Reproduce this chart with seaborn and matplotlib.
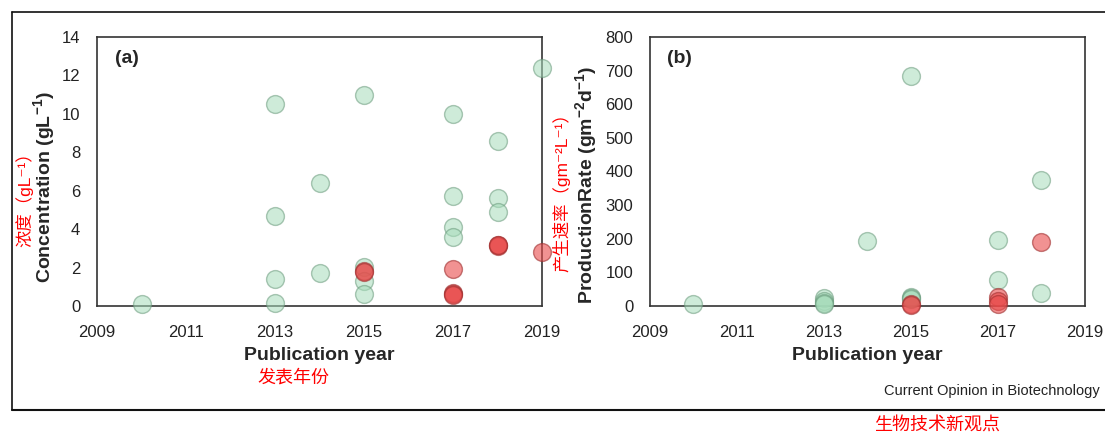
import numpy as np
import pandas as pd
import matplotlib
matplotlib.use("Agg")
import matplotlib.pyplot as plt
import seaborn as sns
from matplotlib.lines import Line2D

sns.set_style("white")
plt.rcParams["font.family"] = ["Liberation Sans", "Noto Sans CJK SC", "DejaVu Sans"]
plt.rcParams["mathtext.fontset"] = "custom"
plt.rcParams["mathtext.rm"] = "Liberation Sans"
plt.rcParams["mathtext.bf"] = "Liberation Sans:bold"

# (a) koncentrace
conc_green_year = [2010, 2013, 2013, 2013, 2013, 2014, 2014, 2015, 2015, 2015, 2015,
                   2017, 2017, 2017, 2017, 2018, 2018, 2018, 2019]
conc_green_val = [0.1, 10.5, 4.7, 1.4, 0.15, 6.4, 1.7, 11.0, 2.05, 1.3, 0.6,
                  10.0, 5.7, 4.1, 3.6, 8.6, 5.6, 4.9, 12.4]
conc_red_year = [2015, 2015, 2017, 2017, 2017, 2017, 2018, 2018, 2018, 2019]
conc_red_val = [1.8, 1.75, 1.9, 0.7, 0.6, 0.55, 3.2, 3.1, 3.15, 2.8]

# (b) rychlost produkce
rate_green_year = [2010, 2013, 2013, 2013, 2013, 2014, 2015, 2015, 2015, 2015,
                   2017, 2017, 2018, 2018]
rate_green_val = [5, 25, 15, 10, 5, 193, 685, 28, 25, 20, 197, 78, 375, 38]
rate_red_year = [2015, 2015, 2017, 2017, 2017, 2018]
rate_red_val = [5, 3, 28, 15, 5, 190]

x_ticks = [2009, 2011, 2013, 2015, 2017, 2019]

green_face = "#a6dcba"
green_edge = "#6a9a7c"
red_face = "#e84a4a"
red_edge = "#a03030"

fig = plt.figure(figsize=(11.05, 4.34), dpi=100)
ax_a = fig.add_axes([0.0878, 0.2949, 0.4027, 0.620])
ax_b = fig.add_axes([0.5882, 0.2949, 0.3937, 0.620])

def draw(ax, gy, gv, ry, rv):
    sns.scatterplot(x=gy, y=gv, ax=ax, s=165, color=green_face, edgecolor=green_edge,
                    linewidth=1.0, alpha=0.55, zorder=3, clip_on=False)
    sns.scatterplot(x=ry, y=rv, ax=ax, s=165, color=red_face, edgecolor=red_edge,
                    linewidth=1.0, alpha=0.6, zorder=4, clip_on=False)
    ax.set_xlim(2009, 2019)
    ax.set_xticks(x_ticks)
    ax.tick_params(axis="both", direction="in", length=4, width=1, labelsize=12,
                   colors="#222222")
    ax.tick_params(axis="y", pad=12)
    ax.tick_params(axis="x", pad=14)
    for sp in ax.spines.values():
        sp.set_color("#333333")
        sp.set_linewidth(1.2)
    ax.set_xlabel("Publication year", fontsize=14, fontweight="bold", labelpad=5)

draw(ax_a, conc_green_year, conc_green_val, conc_red_year, conc_red_val)
ax_a.set_ylim(0, 14)
ax_a.set_yticks(range(0, 15, 2))
ax_a.set_ylabel("Concentration (gL$^{\\mathbf{-1}}$)", fontsize=14, fontweight="bold")
ax_a.yaxis.set_label_coords((58 - 97) / 445, 0.44)
ax_a.text(0.04, 0.92, "(a)", transform=ax_a.transAxes, fontsize=14, fontweight="bold", va="center")

draw(ax_b, rate_green_year, rate_green_val, rate_red_year, rate_red_val)
ax_b.set_ylim(0, 800)
ax_b.set_yticks(range(0, 801, 100))
ax_b.set_ylabel("ProductionRate (gm$^{\\mathbf{-2}}$d$^{\\mathbf{-1}}$)", fontsize=14,
                fontweight="bold")
ax_b.yaxis.set_label_coords((600 - 650) / 435, 0.45)
ax_b.text(0.04, 0.92, "(b)", transform=ax_b.transAxes, fontsize=14, fontweight="bold", va="center")

# červené překlady
fig.text(24 / 1105, 1 - 195 / 434, "浓度（gL⁻¹）", color="red", rotation=90,
         fontsize=12.5, ha="center", va="center")
fig.text(561 / 1105, 1 - 188 / 434, "产生速率（gm⁻²L⁻¹）", color="red", rotation=90,
         fontsize=12.5, ha="center", va="center")
fig.text(293 / 1105, 1 - 378 / 434, "发表年份", color="red", fontsize=13, ha="center", va="center")
fig.text(1100 / 1105, 1 - 391 / 434, "Current Opinion in Biotechnology", color="#222222",
         fontsize=10.5, ha="right", va="center")
fig.text(937 / 1105, 1 - 425 / 434, "生物技术新观点", color="red", fontsize=13,
         ha="center", va="center")

# rámeček
fx = lambda p: p / 1105
fy = lambda p: 1 - p / 434
fig.add_artist(Line2D([fx(12), fx(12)], [fy(12), fy(410)], color="#111111", lw=1.2))
fig.add_artist(Line2D([fx(12), 1.0], [fy(12), fy(12)], color="#111111", lw=1.2))
fig.add_artist(Line2D([fx(12), 1.0], [fy(410), fy(410)], color="#111111", lw=1.5))

fig.savefig("out.png", dpi=100)
